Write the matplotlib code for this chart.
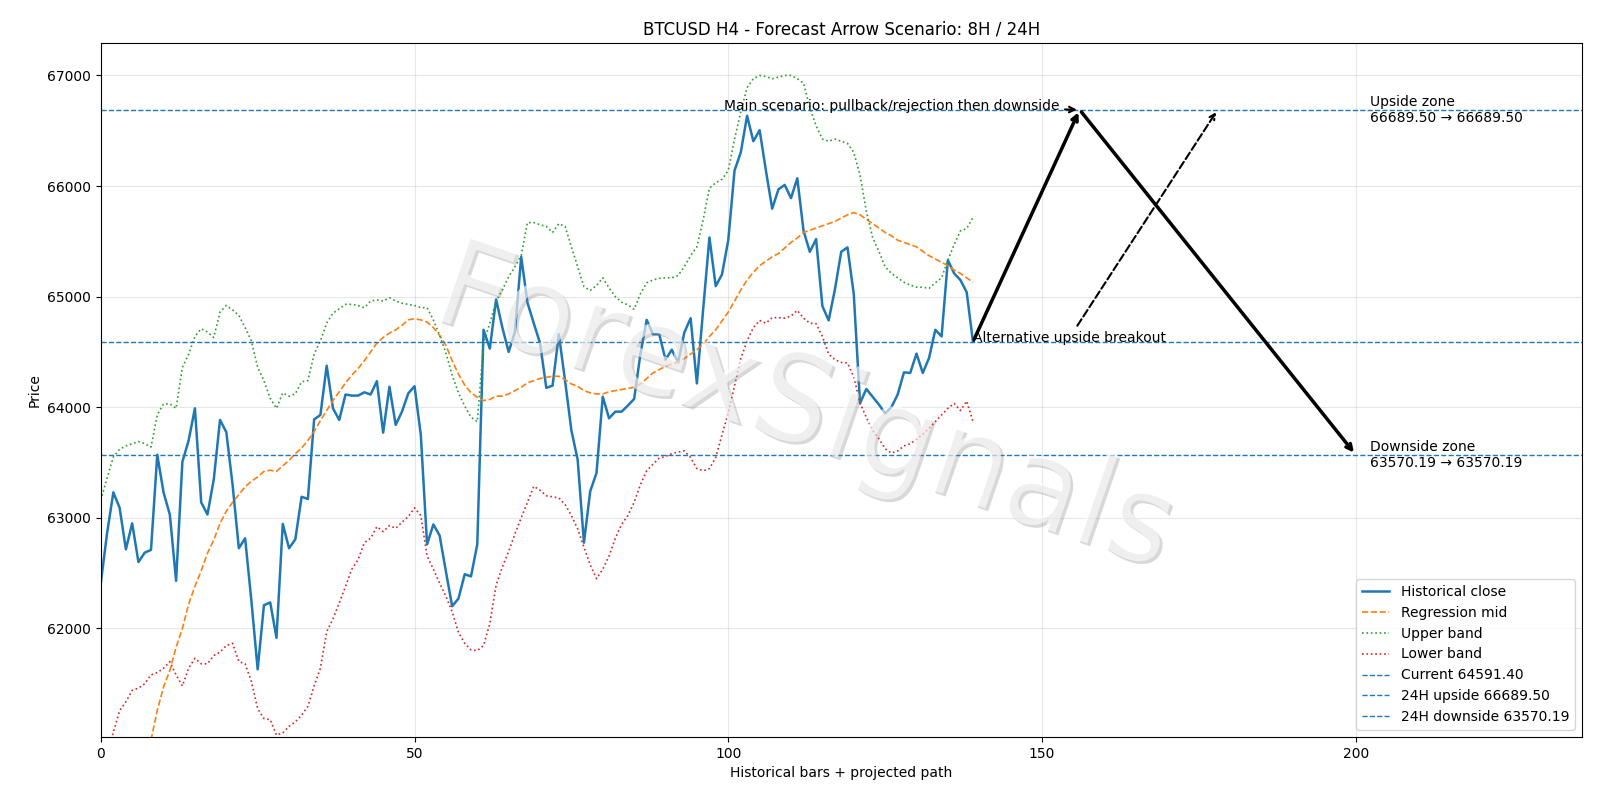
import numpy as np
import matplotlib
matplotlib.use("Agg")
import matplotlib.pyplot as plt
import matplotlib.patheffects as pe

# historical H4 closes (bars 0..139)
close = [62410, 62860, 63230, 63090, 62715, 62950, 62600, 62685, 62710, 63570,
         63230, 63030, 62430, 63505, 63700, 63990, 63140, 63030, 63345, 63885,
         63775, 63300, 62725, 62815, 62250, 61630, 62210, 62235, 61915, 62945,
         62725, 62805, 63190, 63170, 63890, 63930, 64375, 63990, 63885, 64115,
         64105, 64105, 64135, 64115, 64235, 63770, 64185, 63840, 63960, 64125,
         64190, 63750, 62760, 62940, 62840, 62515, 62200, 62270, 62490, 62470,
         62760, 64700, 64530, 64975, 64720, 64500, 64680, 65360, 64945, 64760,
         64580, 64175, 64195, 64660, 64235, 63790, 63525, 62775, 63240, 63405,
         64095, 63900, 63960, 63960, 64015, 64075, 64480, 64790, 64660, 64660,
         64430, 64520, 64405, 64675, 64805, 64215, 64885, 65535, 65095, 65200,
         65510, 66140, 66305, 66635, 66405, 66505, 66140, 65795, 65970, 66010,
         65890, 66070, 65595, 65405, 65520, 64915, 64785, 65065, 65405, 65445,
         65025, 64035, 64165, 64095, 64025, 63945, 64000, 64115, 64315, 64310,
         64485, 64310, 64445, 64700, 64640, 65330, 65210, 65150, 65040, 64591.4]

# regression mid (first bars are off the chart)
mid = [np.nan] * 8 + [
    60990, 61260, 61470, 61620, 61830, 62000, 62220, 62380, 62520, 62680, 62800, 62950,
    63060, 63140, 63210, 63280, 63330, 63370, 63420, 63430, 63420, 63470,
    63520, 63580, 63630, 63700, 63780, 63880, 63970, 64060, 64140, 64220,
    64290, 64350, 64420, 64500, 64580, 64630, 64670, 64700, 64740, 64790,
    64800, 64790, 64770, 64720, 64650, 64560, 64420, 64300, 64200, 64130,
    64090, 64060, 64070, 64100, 64100, 64120, 64150, 64180, 64220, 64240,
    64260, 64270, 64280, 64280, 64250, 64210, 64190, 64150, 64130, 64120,
    64120, 64140, 64150, 64160, 64170, 64180, 64210, 64260, 64310, 64340,
    64370, 64390, 64410, 64440, 64480, 64520, 64570, 64640, 64700, 64780,
    64860, 64960, 65060, 65150, 65220, 65280, 65320, 65360, 65390, 65440,
    65490, 65530, 65580, 65600, 65620, 65640, 65660, 65680, 65710, 65740,
    65760, 65740, 65700, 65660, 65620, 65580, 65550, 65510, 65490, 65470,
    65450, 65410, 65370, 65340, 65310, 65280, 65240, 65210, 65170, 65130]

upper = [63160, 63360, 63550, 63620, 63650, 63670, 63690, 63670, 63640, 63930,
         64030, 64030, 63990, 64360, 64480, 64640, 64710, 64680, 64630, 64860,
         64920, 64880, 64830, 64720, 64600, 64360, 64240, 64080, 63990, 64130,
         64100, 64120, 64230, 64240, 64480, 64600, 64760, 64850, 64890, 64930,
         64930, 64920, 64900, 64960, 64970, 64960, 64990, 64960, 64940, 64930,
         64920, 64900, 64900, 64790, 64650, 64490, 64290, 64130, 64010, 63910,
         63870, 64580, 64760, 64960, 65060, 65180, 65270, 65370, 65670, 65670,
         65650, 65635, 65580, 65660, 65635, 65450, 65270, 65090, 65055, 65100,
         65170, 65080, 65000, 64950, 64925, 64885, 65025, 65125, 65150, 65165,
         65170, 65170, 65190, 65270, 65370, 65450, 65695, 65980, 66030, 66060,
         66140, 66425, 66670, 66890, 66970, 67000, 66990, 66970, 66985, 67000,
         67000, 66970, 66930, 66710, 66545, 66425, 66405, 66425, 66405, 66385,
         66305, 66100, 65775, 65535, 65410, 65270, 65210, 65170, 65130, 65105,
         65085, 65085, 65075, 65125, 65170, 65330, 65470, 65595, 65615, 65715]

lower = [60650, 60880, 61060, 61256, 61337, 61440, 61460, 61500, 61580, 61600,
         61640, 61700, 61580, 61480, 61640, 61730, 61680, 61680, 61755, 61785,
         61845, 61865, 61700, 61680, 61520, 61275, 61185, 61175, 61035, 61055,
         61115, 61155, 61215, 61295, 61480, 61640, 61970, 62085, 62230, 62380,
         62535, 62620, 62775, 62815, 62920, 62875, 62930, 62905, 62960, 63010,
         63090, 63020, 62655, 62535, 62410, 62290, 62150, 61965, 61865, 61805,
         61800, 61845, 62045, 62390, 62555, 62695, 62855, 63000, 63140, 63285,
         63250, 63200, 63190, 63180, 63120, 63020, 62900, 62735, 62575, 62450,
         62535, 62655, 62815, 62940, 63020, 63140, 63300, 63425, 63485, 63540,
         63555, 63580, 63595, 63605, 63545, 63445, 63425, 63445, 63545, 63750,
         63950, 64195, 64440, 64600, 64720, 64785, 64760, 64810, 64810, 64805,
         64825, 64875, 64805, 64760, 64755, 64640, 64480, 64430, 64405, 64400,
         64275, 64035, 63910, 63790, 63715, 63625, 63585, 63605, 63650, 63670,
         63710, 63755, 63810, 63870, 63930, 63990, 64035, 63970, 64055, 63870]

current = 64591.40
up_24h = 66689.50
down_24h = 63570.19
# projected path x positions
x_now = 139
x_peak = 156
x_alt = 178
x_down = 200

x = np.arange(len(close))

fig, ax = plt.subplots(figsize=(16, 8), dpi=100)
fig.subplots_adjust(left=0.063, right=0.9885, top=0.9465, bottom=0.079)
ax.plot(x, close, color='C0', lw=1.8, label='Historical close')
ax.plot(x, mid, color='C1', ls='--', lw=1.2, label='Regression mid')
ax.plot(x, upper, color='C2', ls=':', lw=1.2, label='Upper band')
ax.plot(x, lower, color='C3', ls=':', lw=1.2, label='Lower band')
ax.axhline(current, color='C0', ls='--', lw=1, label=f'Current {current:.2f}')
ax.axhline(up_24h, color='C0', ls='--', lw=1, label=f'24H upside {up_24h:.2f}')
ax.axhline(down_24h, color='C0', ls='--', lw=1, label=f'24H downside {down_24h:.2f}')

# main scenario: up to the upside zone, then down
ax.annotate('', xy=(x_peak, up_24h), xytext=(x_now, current),
            arrowprops=dict(arrowstyle='->', lw=2.5, color='black'))
ax.annotate('', xy=(x_down, down_24h), xytext=(x_peak, up_24h),
            arrowprops=dict(arrowstyle='->', lw=2.5, color='black'))
ax.annotate('Main scenario: pullback/rejection then downside',
            xy=(x_peak, up_24h), xytext=(x_now - 39.7, up_24h), fontsize=10,
            arrowprops=dict(arrowstyle='->', lw=1.5, color='black'))
ax.annotate('Alternative upside breakout', xy=(x_alt, up_24h),
            xytext=(x_now, current), fontsize=10,
            arrowprops=dict(arrowstyle='->', lw=1.5, ls='--', color='black'))

ax.text(x_down + 2.2, up_24h, f'Upside zone\n{up_24h:.2f} → {up_24h:.2f}',
        va='center', fontsize=10)
ax.text(x_down + 2.2, down_24h, f'Downside zone\n{down_24h:.2f} → {down_24h:.2f}',
        va='center', fontsize=10)

# watermark
ax.text(0.475, 0.47, 'ForexSignals', transform=ax.transAxes, fontsize=88,
        rotation=-19, ha='center', va='center', color='white', alpha=0.6,
        zorder=10,
        path_effects=[pe.withSimplePatchShadow(offset=(2, -2),
                                               shadow_rgbFace='gray', alpha=0.3)])

ax.set_xlim(0, 236)
ax.set_ylim(61020, 67295)
ax.set_title('BTCUSD H4 - Forecast Arrow Scenario: 8H / 24H')
ax.set_xlabel('Historical bars + projected path')
ax.set_ylabel('Price')
ax.grid(True, alpha=0.3)
ax.legend(loc='lower right')
fig.savefig('out.png', dpi=100)
